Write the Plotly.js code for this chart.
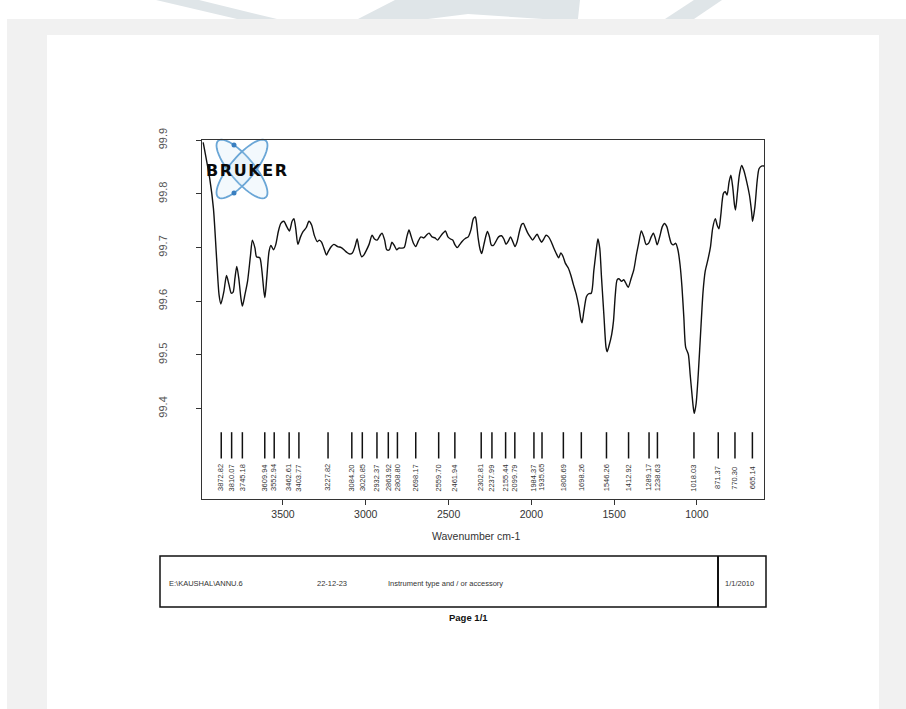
<!DOCTYPE html>
<html>
<head>
<meta charset="utf-8">
<script src="https://cdn.plot.ly/plotly-3.0.1.min.js"></script>
<style>
  html, body { margin: 0; padding: 0; background: #ffffff; }
  #chart { width: 906px; height: 709px; }
</style>
</head>
<body>
<div id="chart"></div>
<script>
// ---------------- data ----------------
const wavenumber = [3982,3942,3920,3902,3886,3875,3857,3841,3826,3812,3801,3790,3779,3767,3754,3745,3730,3714,3696,3685,
3669,3660,3640,3629,3615,3609,3598,3584,3573,3557,3544,3528,3513,3495,3477,3461,3445,3434,3423,3410,
3394,3378,3360,3343,3327,3311,3293,3280,3267,3253,3237,3226,3208,3193,3170,3148,3132,3114,3097,3081,
3065,3052,3041,3025,3012,2998,2980,2962,2947,2931,2913,2902,2886,2873,2857,2842,2828,2813,2801,2783,
2768,2752,2739,2728,2712,2698,2683,2667,2649,2634,2618,2600,2582,2566,2551,2533,2519,2504,2488,2475,
2461,2448,2432,2417,2399,2381,2365,2350,2338,2332,2321,2309,2300,2287,2276,2265,2253,2242,2229,2215,
2198,2180,2166,2153,2139,2126,2112,2099,2086,2072,2059,2048,2036,2023,2007,1992,1978,1965,1952,1938,
1925,1911,1896,1880,1866,1851,1835,1822,1808,1795,1777,1761,1746,1728,1712,1701,1694,1683,1667,1654,
1638,1623,1609,1598,1587,1576,1562,1549,1542,1531,1515,1504,1493,1482,1471,1455,1442,1430,1415,1397,
1381,1366,1352,1336,1321,1307,1292,1276,1263,1251,1240,1225,1209,1196,1182,1169,1155,1142,1128,1115,
1102,1090,1079,1068,1052,1041,1030,1022,1016,1005,992,976,963,950,934,918,905,889,878,867,
856,840,829,818,806,795,784,773,767,755,744,730,717,699,683,670,664,650,636,625,610,594];
const transmittance = [99.896,99.828,99.773,99.686,99.612,99.595,99.618,99.648,99.631,99.615,99.617,99.643,99.665,99.643,99.606,99.591,99.612,99.637,99.686,99.714,
99.699,99.683,99.681,99.662,99.618,99.607,99.643,99.693,99.704,99.696,99.705,99.730,99.745,99.749,99.739,99.731,99.749,99.754,99.736,99.706,
99.720,99.730,99.737,99.749,99.742,99.723,99.711,99.714,99.710,99.699,99.686,99.693,99.702,99.706,99.702,99.700,99.696,99.691,99.688,99.690,
99.702,99.716,99.699,99.683,99.686,99.694,99.706,99.723,99.716,99.714,99.723,99.727,99.714,99.696,99.696,99.710,99.704,99.696,99.699,99.699,
99.700,99.720,99.733,99.723,99.708,99.702,99.712,99.720,99.718,99.723,99.727,99.720,99.718,99.714,99.720,99.727,99.731,99.720,99.716,99.714,
99.705,99.700,99.706,99.712,99.717,99.720,99.733,99.754,99.757,99.748,99.717,99.696,99.689,99.705,99.720,99.730,99.720,99.705,99.704,99.711,
99.720,99.722,99.716,99.706,99.712,99.720,99.711,99.702,99.711,99.730,99.743,99.745,99.737,99.728,99.720,99.714,99.720,99.725,99.717,99.710,
99.716,99.723,99.720,99.711,99.700,99.690,99.681,99.690,99.683,99.671,99.662,99.648,99.631,99.612,99.588,99.566,99.560,99.581,99.609,99.614,
99.615,99.656,99.693,99.716,99.699,99.643,99.575,99.514,99.506,99.517,99.538,99.563,99.612,99.640,99.642,99.637,99.640,99.634,99.626,99.643,
99.659,99.686,99.708,99.731,99.720,99.706,99.708,99.720,99.727,99.717,99.705,99.720,99.739,99.745,99.739,99.723,99.708,99.705,99.708,99.696,
99.668,99.625,99.569,99.514,99.501,99.464,99.427,99.402,99.391,99.409,99.464,99.551,99.618,99.656,99.677,99.702,99.736,99.754,99.742,99.735,
99.760,99.801,99.804,99.798,99.822,99.835,99.813,99.779,99.770,99.804,99.835,99.853,99.844,99.822,99.798,99.767,99.749,99.776,99.825,99.847,99.852,99.852];
const peakPositions = [3872.82,3810.07,3745.18,3609.94,3552.94,3462.61,3403.77,3227.82,3084.20,3020.85,2932.37,2863.92,2808.80,2698.17,2559.70,2461.94,
2302.81,2237.99,2155.44,2099.79,1984.37,1935.65,1806.69,1698.26,1546.26,1412.92,1289.17,1238.63,1018.03,871.37,770.30,665.14];
const xTickValues = [3500,3000,2500,2000,1500,1000];
const yTickValues = [99.4,99.5,99.6,99.7,99.8,99.9];
const footerFile = "E:\\KAUSHAL\\ANNU.6";
const footerDate = "22-12-23";
const footerInstrument = "Instrument type and / or accessory";
const footerRight = "1/1/2010";

// ---------------- layout geometry (page pixels) ----------------
const L = 202, R = 764, T = 140, B = 499;
const W = R - L, H = B - T;
const px = x => (x - L) / W;
const py = y => (B - y) / H;
const FONT = "Liberation Sans, Arial, sans-serif";

function poly(points) {
  return points.map((p, i) => (i ? "L" : "M") + px(p[0]).toFixed(4) + "," + py(p[1]).toFixed(4)).join(" ") + " Z";
}
function ellipse(cx, cy, a, b, angDeg) {
  const pts = [], t = angDeg * Math.PI / 180;
  for (let i = 0; i < 48; i++) {
    const u = 2 * Math.PI * i / 48;
    const ex = a * Math.cos(u), ey = b * Math.sin(u);
    pts.push([cx + ex * Math.cos(t) - ey * Math.sin(t), cy + ex * Math.sin(t) + ey * Math.cos(t)]);
  }
  return poly(pts);
}

const shapes = [
  // grey surround and white page
  {type: "rect", xref: "paper", yref: "paper", x0: px(7), x1: px(906), y0: py(709), y1: py(19),
   fillcolor: "#f1f1f1", line: {width: 0}, layer: "below"},
  {type: "rect", xref: "paper", yref: "paper", x0: px(47), x1: px(879), y0: py(709), y1: py(35),
   fillcolor: "#ffffff", line: {width: 0}, layer: "below"},
  // faint watermark pieces at the top
  {type: "path", xref: "paper", yref: "paper", path: poly([[156,0],[199,0],[277,19],[237,19]]),
   fillcolor: "#dfe5e8", line: {width: 0}, layer: "below"},
  {type: "path", xref: "paper", yref: "paper", path: poly([[358,19],[395,0],[580,0],[578,19],[543,19],[468,14],[428,19]]),
   fillcolor: "#dfe5e8", line: {width: 0}, layer: "below"},
  {type: "path", xref: "paper", yref: "paper", path: poly([[665,19],[694,19],[722,0],[694,0]]),
   fillcolor: "#dfe5e8", line: {width: 0}, layer: "below"},
  // Bruker atom logo
  {type: "path", xref: "paper", yref: "paper", path: ellipse(242, 169, 37, 12, 50),
   fillcolor: "rgba(190,220,245,0.18)", line: {color: "#6aa6d6", width: 1.8}, layer: "below"},
  {type: "path", xref: "paper", yref: "paper", path: ellipse(242, 169, 37, 12, -50),
   fillcolor: "rgba(190,220,245,0.18)", line: {color: "#6aa6d6", width: 1.8}, layer: "below"},
  {type: "circle", xref: "paper", yref: "paper", x0: px(231.5), x1: px(236.5), y0: py(147.5), y1: py(142.5),
   fillcolor: "#3a7fc0", line: {width: 0}},
  {type: "circle", xref: "paper", yref: "paper", x0: px(231.5), x1: px(236.5), y0: py(195.5), y1: py(190.5),
   fillcolor: "#3a7fc0", line: {width: 0}},
  // footer table
  {type: "rect", xref: "paper", yref: "paper", x0: px(160), x1: px(766), y0: py(607), y1: py(556),
   line: {color: "#111", width: 1.5}},
  {type: "line", xref: "paper", yref: "paper", x0: px(718), x1: px(718), y0: py(607), y1: py(556),
   line: {color: "#111", width: 2}}
];

const annotations = [
  {xref: "paper", yref: "paper", x: px(204), y: py(170), xanchor: "left", yanchor: "middle", showarrow: false,
   text: "<b><span style='letter-spacing:1.6px'>BRUKER</span></b>",
   font: {family: "DejaVu Sans, Arial Black, sans-serif", size: 16, color: "#0a0a0a"}},
  {xref: "paper", yref: "paper", x: px(167), y: py(583), xanchor: "left", yanchor: "middle", showarrow: false,
   text: footerFile, font: {family: FONT, size: 7.5, color: "#333"}},
  {xref: "paper", yref: "paper", x: px(315), y: py(583), xanchor: "left", yanchor: "middle", showarrow: false,
   text: footerDate, font: {family: FONT, size: 7.5, color: "#333"}},
  {xref: "paper", yref: "paper", x: px(386), y: py(583), xanchor: "left", yanchor: "middle", showarrow: false,
   text: footerInstrument, font: {family: FONT, size: 7.5, color: "#333"}},
  {xref: "paper", yref: "paper", x: px(723), y: py(583), xanchor: "left", yanchor: "middle", showarrow: false,
   text: footerRight, font: {family: FONT, size: 7.5, color: "#333"}},
  {xref: "paper", yref: "paper", x: px(468), y: py(617), xanchor: "center", yanchor: "middle", showarrow: false,
   text: "<b>Page 1/1</b>", font: {family: FONT, size: 9.5, color: "#111"}},
  {xref: "paper", yref: "paper", x: px(476), y: py(536), xanchor: "center", yanchor: "middle", showarrow: false,
   text: "Wavenumber cm-1", font: {family: FONT, size: 10.5, color: "#333"}}
];

// peak labels (rotated numbers under the tick marks)
const peakLineTop = 99.356, peakLineBottom = 99.307, peakTextY = 99.271;
peakPositions.forEach(p => {
  annotations.push({xref: "x", yref: "y", x: p, y: peakTextY, textangle: -90, showarrow: false,
    xanchor: "center", yanchor: "middle", text: p.toFixed(2),
    font: {family: FONT, size: 7.5, color: "#333"}});
});

const peakX = [], peakY = [];
peakPositions.forEach(p => { peakX.push(p, p, null); peakY.push(peakLineBottom, peakLineTop, null); });

const traces = [
  {x: wavenumber, y: transmittance, type: "scatter", mode: "lines",
   line: {color: "#111", width: 1.4, shape: "spline", smoothing: 0.7}, hoverinfo: "x+y"},
  {x: peakX, y: peakY, type: "scatter", mode: "lines",
   line: {color: "#111", width: 1.5}, hoverinfo: "skip"}
];

const layout = {
  width: 906, height: 709,
  margin: {l: L, r: 906 - R, t: T, b: 709 - B, pad: 0},
  paper_bgcolor: "#ffffff",
  plot_bgcolor: "rgba(0,0,0,0)",
  showlegend: false,
  font: {family: FONT, color: "#333"},
  xaxis: {
    range: [3989, 595], autorange: false,
    tickmode: "array", tickvals: xTickValues, ticktext: xTickValues.map(String),
    ticks: "outside", ticklen: 5, tickwidth: 1, tickcolor: "#333",
    showline: true, mirror: true, linecolor: "#333", linewidth: 1.2,
    showgrid: false, zeroline: false,
    tickfont: {family: FONT, size: 10.5, color: "#333"}
  },
  yaxis: {
    range: [99.2315, 99.9005], autorange: false,
    tickmode: "array", tickvals: yTickValues, ticktext: yTickValues.map(v => v.toFixed(1)),
    ticks: "outside", ticklen: 5, tickwidth: 1, tickcolor: "#333", tickangle: -90,
    ticklabelstandoff: 24,
    showline: true, mirror: true, linecolor: "#333", linewidth: 1.2,
    showgrid: false, zeroline: false,
    tickfont: {family: FONT, size: 11, color: "#555"}
  },
  shapes: shapes,
  annotations: annotations
};

Plotly.newPlot("chart", traces, layout, {staticPlot: true, displayModeBar: false});
</script>
</body>
</html>
